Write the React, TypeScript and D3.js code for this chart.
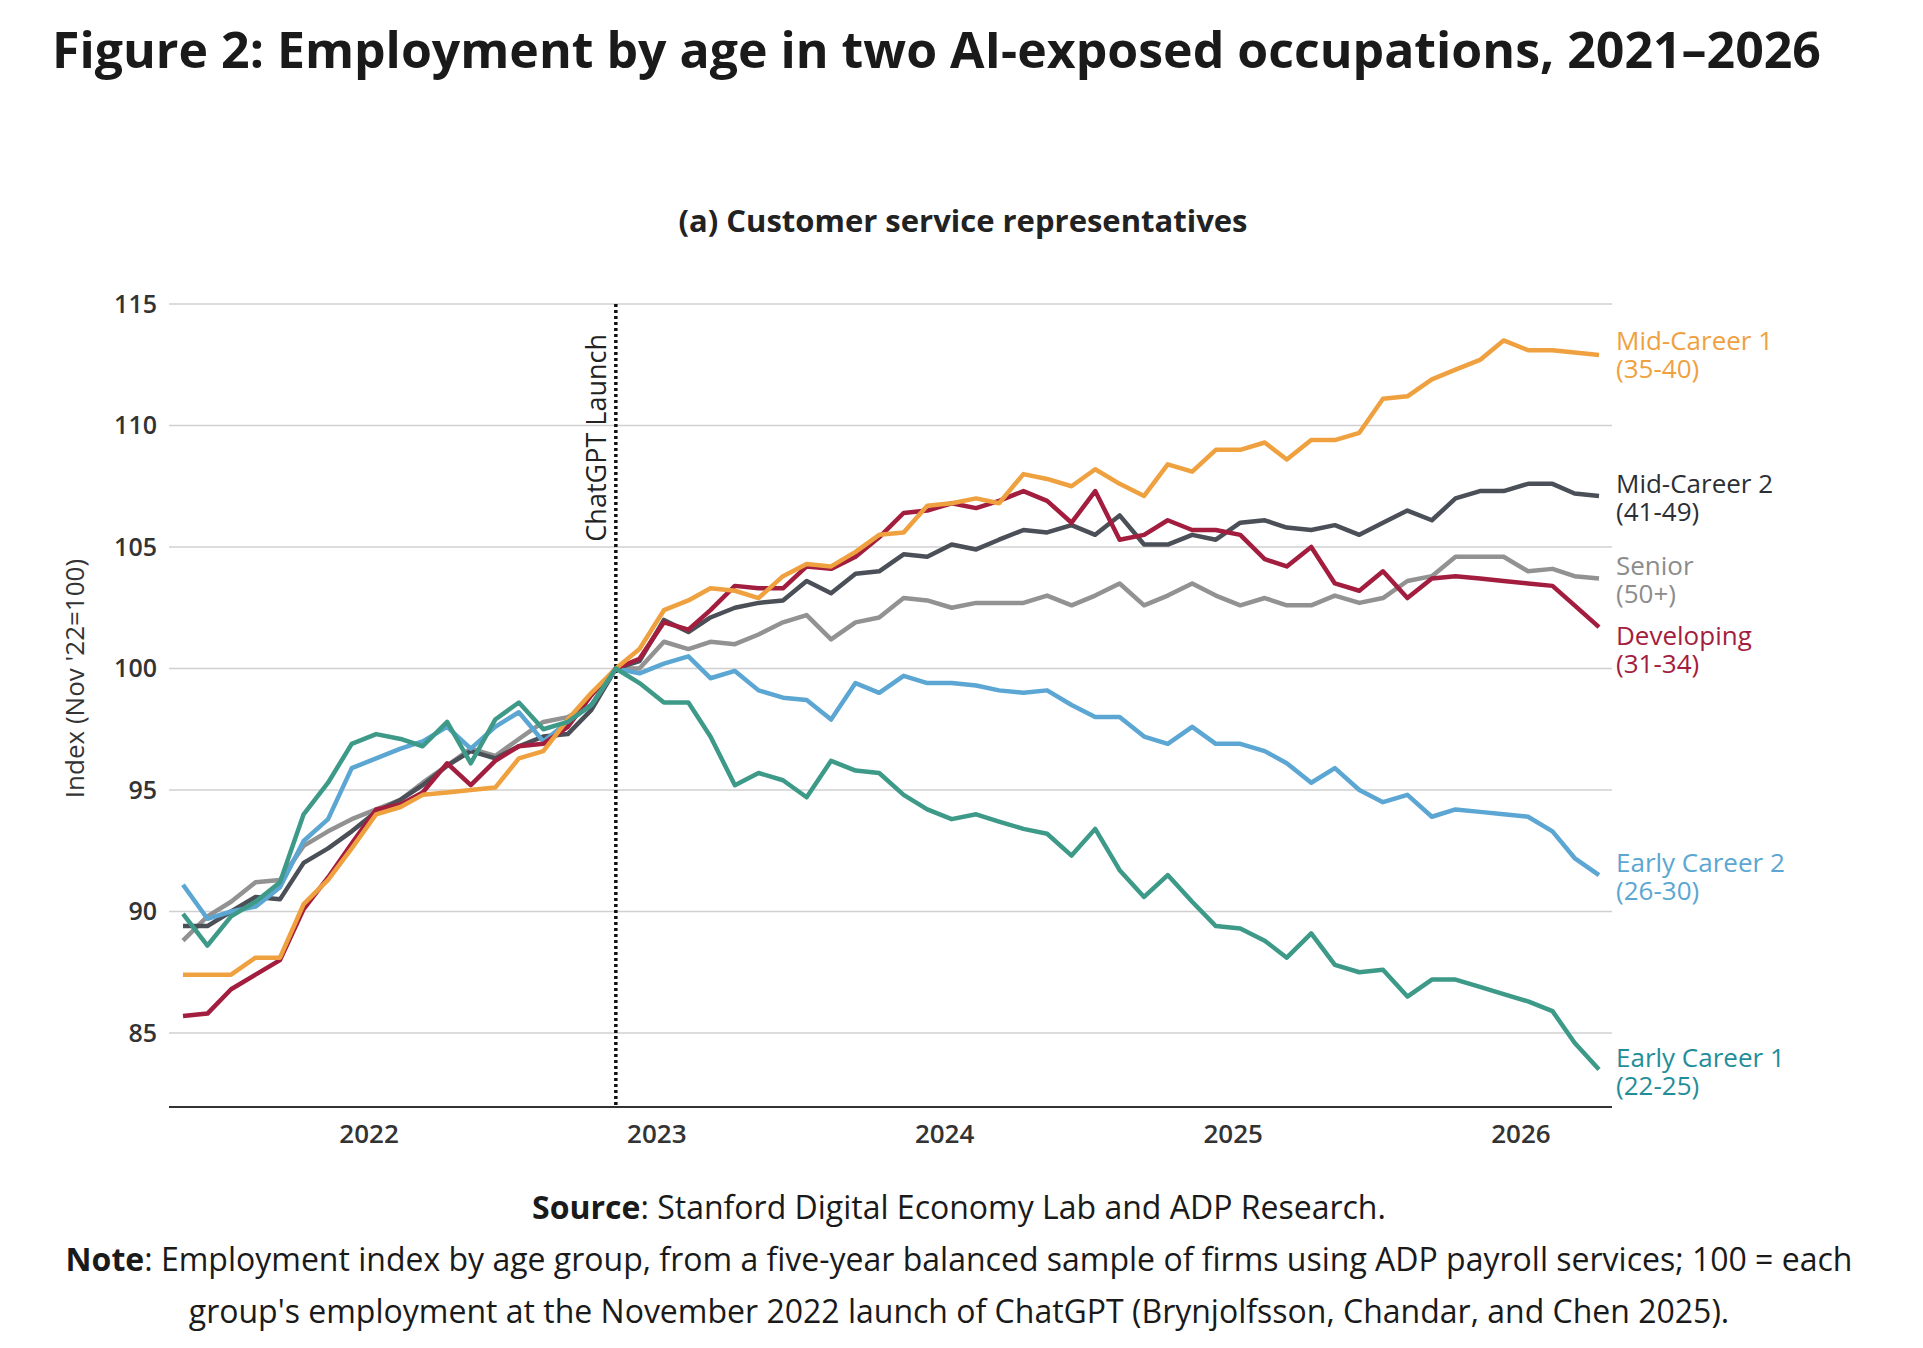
import React from "react";
import * as d3 from "d3";

// monthly points, May 2021 .. Apr 2026 (index, Nov '22 = 100)
const startMonth = new Date(2021, 4, 10);
const yearTicks = [2022, 2023, 2024, 2025, 2026];
const yTicks = [85, 90, 95, 100, 105, 110, 115];

const early1 = [89.9, 88.6, 89.8, 90.4, 91.2, 94.0, 95.3, 96.9, 97.3, 97.1, 96.8, 97.8, 96.1, 97.9, 98.6, 97.5, 97.8, 98.5, 100, 99.4, 98.6, 98.6, 97.2, 95.2, 95.7, 95.4, 94.7, 96.2, 95.8, 95.7, 94.8, 94.2, 93.8, 94.0, 93.7, 93.4, 93.2, 92.3, 93.4, 91.7, 90.6, 91.5, 90.4, 89.4, 89.3, 88.8, 88.1, 89.1, 87.8, 87.5, 87.6, 86.5, 87.2, 87.2, 86.9, 86.6, 86.3, 85.9, 84.6, 83.5];
const early2 = [91.1, 89.7, 90.0, 90.2, 91.0, 92.9, 93.8, 95.9, 96.3, 96.7, 97.0, 97.6, 96.7, 97.6, 98.2, 97.0, 97.8, 98.5, 100, 99.8, 100.2, 100.5, 99.6, 99.9, 99.1, 98.8, 98.7, 97.9, 99.4, 99.0, 99.7, 99.4, 99.4, 99.3, 99.1, 99.0, 99.1, 98.5, 98.0, 98.0, 97.2, 96.9, 97.6, 96.9, 96.9, 96.6, 96.1, 95.3, 95.9, 95.0, 94.5, 94.8, 93.9, 94.2, 94.1, 94.0, 93.9, 93.3, 92.2, 91.5];
const developing = [85.7, 85.8, 86.8, 87.4, 88.0, 90.1, 91.4, 92.8, 94.2, 94.4, 94.9, 96.1, 95.2, 96.2, 96.8, 96.9, 97.6, 98.9, 100, 100.4, 101.9, 101.6, 102.4, 103.4, 103.3, 103.3, 104.2, 104.1, 104.6, 105.4, 106.4, 106.5, 106.8, 106.6, 106.9, 107.3, 106.9, 106.0, 107.3, 105.3, 105.5, 106.1, 105.7, 105.7, 105.5, 104.5, 104.2, 105.0, 103.5, 103.2, 104.0, 102.9, 103.7, 103.8, 103.7, 103.6, 103.5, 103.4, 102.6, 101.7];
const mid1 = [87.4, 87.4, 87.4, 88.1, 88.1, 90.3, 91.3, 92.6, 94.0, 94.3, 94.8, 94.9, 95.0, 95.1, 96.3, 96.6, 97.9, 99.0, 100, 100.8, 102.4, 102.8, 103.3, 103.2, 102.9, 103.8, 104.3, 104.2, 104.8, 105.5, 105.6, 106.7, 106.8, 107.0, 106.8, 108.0, 107.8, 107.5, 108.2, 107.6, 107.1, 108.4, 108.1, 109.0, 109.0, 109.3, 108.6, 109.4, 109.4, 109.7, 111.1, 111.2, 111.9, 112.3, 112.7, 113.5, 113.1, 113.1, 113.0, 112.9];
const mid2 = [89.4, 89.4, 90.0, 90.6, 90.5, 92.0, 92.6, 93.3, 94.1, 94.6, 95.2, 96.0, 96.6, 96.3, 96.8, 97.2, 97.3, 98.3, 100, 100.3, 102.0, 101.5, 102.1, 102.5, 102.7, 102.8, 103.6, 103.1, 103.9, 104.0, 104.7, 104.6, 105.1, 104.9, 105.3, 105.7, 105.6, 105.9, 105.5, 106.3, 105.1, 105.1, 105.5, 105.3, 106.0, 106.1, 105.8, 105.7, 105.9, 105.5, 106.0, 106.5, 106.1, 107.0, 107.3, 107.3, 107.6, 107.6, 107.2, 107.1];
const senior = [88.8, 89.8, 90.4, 91.2, 91.3, 92.7, 93.3, 93.8, 94.2, 94.6, 95.3, 96.0, 96.7, 96.4, 97.1, 97.8, 98.0, 98.5, 100, 100.0, 101.1, 100.8, 101.1, 101.0, 101.4, 101.9, 102.2, 101.2, 101.9, 102.1, 102.9, 102.8, 102.5, 102.7, 102.7, 102.7, 103.0, 102.6, 103.0, 103.5, 102.6, 103.0, 103.5, 103.0, 102.6, 102.9, 102.6, 102.6, 103.0, 102.7, 102.9, 103.6, 103.8, 104.6, 104.6, 104.6, 104.0, 104.1, 103.8, 103.7];

const seriesNames = ["Senior", "Mid-Career 2", "Early Career 2", "Developing", "Mid-Career 1", "Early Career 1"];
const seriesAges = ["(50+)", "(41-49)", "(26-30)", "(31-34)", "(35-40)", "(22-25)"];
const seriesValues = [senior, mid2, early2, developing, mid1, early1];
const lineColors = ["#929292", "#4b5058", "#5ba6d2", "#a31d3e", "#efa13f", "#3e9a88"];
const labelColors = ["#8c8c8c", "#2c2f35", "#5ba6d2", "#a31d3e", "#efa13f", "#1f8e9a"];
const labelTops = [575, 493, 872, 645, 350, 1067];

const FONT = "'Open Sans', 'Noto Sans', sans-serif";

export default function App() {
  const ref = React.useRef<SVGSVGElement>(null);

  React.useEffect(() => {
    const svg = d3.select(ref.current);
    svg.selectAll("*").remove();

    const dates = d3.range(60).map((i) => d3.timeMonth.offset(startMonth, i));
    const x = d3.scaleTime().domain([dates[0], dates[59]]).range([183, 1599]);
    const y = d3.scaleLinear().domain([85, 115]).range([1033, 304]);
    const left = 169, right = 1612, bottom = 1107;

    svg.append("text").attr("x", 52).attr("y", 68).attr("font-family", FONT)
      .attr("font-weight", 700).attr("font-size", 50).attr("fill", "#1a1a1a")
      .text("Figure 2: Employment by age in two AI-exposed occupations, 2021–2026");

    svg.append("text").attr("x", 963).attr("y", 232).attr("text-anchor", "middle")
      .attr("font-family", FONT).attr("font-weight", 700).attr("font-size", 31).attr("fill", "#222")
      .text("(a) Customer service representatives");

    // grid + y labels
    const g = svg.append("g");
    yTicks.forEach((t) => {
      g.append("line").attr("x1", left).attr("x2", right).attr("y1", y(t)).attr("y2", y(t))
        .attr("stroke", "#d0d0d0").attr("stroke-width", 1.5);
      g.append("text").attr("x", 157).attr("y", y(t)).attr("dy", "0.35em").attr("text-anchor", "end")
        .attr("font-family", FONT).attr("font-size", 25).attr("font-weight", 600).attr("fill", "#333").text(t);
    });
    g.append("line").attr("x1", left).attr("x2", right).attr("y1", bottom).attr("y2", bottom)
      .attr("stroke", "#333").attr("stroke-width", 2);
    yearTicks.forEach((yr) => {
      g.append("text").attr("x", x(new Date(yr, 0, 1))).attr("y", 1143).attr("text-anchor", "middle")
        .attr("font-family", FONT).attr("font-size", 26).attr("font-weight", 600).attr("fill", "#333").text(yr);
    });

    svg.append("text").attr("transform", `translate(84,${(304 + 1033) / 2 + 10}) rotate(-90)`)
      .attr("text-anchor", "middle").attr("font-family", FONT).attr("font-size", 26).attr("fill", "#333")
      .text("Index (Nov '22=100)");

    // ChatGPT launch
    const lx = x(dates[18]);
    svg.append("line").attr("x1", lx).attr("x2", lx).attr("y1", 304).attr("y2", bottom)
      .attr("stroke", "#111").attr("stroke-width", 3.5).attr("stroke-dasharray", "3,3");
    svg.append("text").attr("transform", `translate(${lx - 10},334) rotate(-90)`)
      .attr("text-anchor", "end").attr("font-family", FONT).attr("font-size", 27).attr("fill", "#222")
      .text("ChatGPT Launch");

    const line = d3.line<number>().x((_, i) => x(dates[i])).y((v) => y(v));
    seriesValues.forEach((vals, k) => {
      svg.append("path").datum(vals).attr("d", line).attr("fill", "none")
        .attr("stroke", lineColors[k]).attr("stroke-width", 4.5).attr("stroke-linejoin", "round");
      const t = svg.append("text").attr("x", 1616).attr("y", labelTops[k])
        .attr("font-family", FONT).attr("font-size", 26).attr("fill", labelColors[k]);
      t.append("tspan").attr("x", 1616).text(seriesNames[k]);
      t.append("tspan").attr("x", 1616).attr("dy", 28).text(seriesAges[k]);
    });

    // source + note
    const foot = svg.append("text").attr("font-family", FONT).attr("font-size", 32).attr("fill", "#1a1a1a")
      .attr("text-anchor", "middle");
    const l1 = foot.append("tspan").attr("x", 959).attr("y", 1219);
    l1.append("tspan").attr("font-weight", 700).text("Source");
    l1.append("tspan").text(": Stanford Digital Economy Lab and ADP Research.");
    const l2 = foot.append("tspan").attr("x", 959).attr("y", 1271);
    l2.append("tspan").attr("font-weight", 700).text("Note");
    l2.append("tspan").text(": Employment index by age group, from a five-year balanced sample of firms using ADP payroll services; 100 = each");
    foot.append("tspan").attr("x", 959).attr("y", 1323)
      .text("group's employment at the November 2022 launch of ChatGPT (Brynjolfsson, Chandar, and Chen 2025).");
  }, []);

  return (
    <svg ref={ref} width={1923} height={1348}
      style={{ position: "absolute", left: 0, top: 0, background: "#fff" }} />
  );
}
